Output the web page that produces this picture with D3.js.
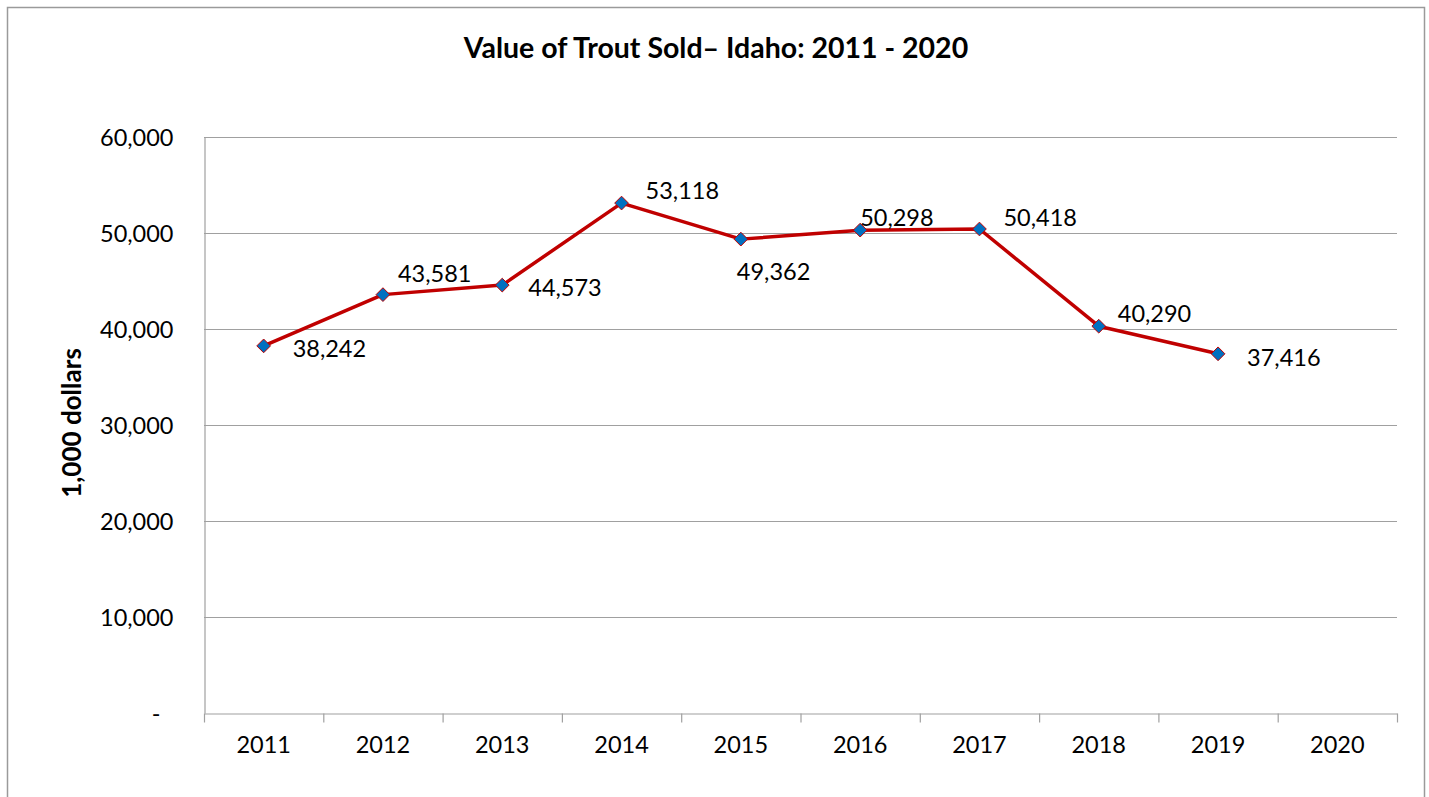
<!DOCTYPE html>
<html>
<head>
<meta charset="utf-8">
<script src="https://cdn.jsdelivr.net/npm/d3@7"></script>
<style>
  html, body { margin: 0; padding: 0; background: #fff; }
  svg { display: block; }
  text { font-family: Lato, "Open Sans", sans-serif; fill: #000; }
</style>
</head>
<body>
<svg id="chart" width="1429" height="797"></svg>
<script>
const years = ["2011","2012","2013","2014","2015","2016","2017","2018","2019","2020"];
const values = [38242, 43581, 44573, 53118, 49362, 50298, 50418, 40290, 37416, null];
const yTicks = [0, 10000, 20000, 30000, 40000, 50000, 60000];
// label offsets (dx from point to label start, dy to label centre) — layout only
const labelDx = [29, 15, 26, 24, -4, 0, 24, 19, 29];
const labelDy = [3, -21, 3, -12, 33, -12, -11, -12, 4];

const svg = d3.select("#chart");
const m = { left: 204, right: 1397, top: 137, bottom: 713 };

// outer frame
svg.append("rect").attr("x", 7.5).attr("y", 7.5).attr("width", 1417).attr("height", 800)
  .attr("fill", "#fff").attr("stroke", "#9a9a9a").attr("stroke-width", 1.5);

const x = d3.scaleBand().domain(years).range([m.left, m.right]).padding(0);
const y = d3.scaleLinear().domain([0, 60000]).range([m.bottom, m.top]);

// gridlines
svg.append("g").selectAll("line").data(yTicks.filter(d => d > 0)).join("line")
  .attr("x1", m.left).attr("x2", m.right)
  .attr("y1", d => y(d) + 0.5).attr("y2", d => y(d) + 0.5)
  .attr("stroke", "#a0a0a0").attr("stroke-width", 1.2);

// y axis
const fmt = d3.format(",");
const yAxis = svg.append("g").attr("transform", `translate(${m.left + 0.5},0)`)
  .call(d3.axisLeft(y).tickValues(yTicks).tickSize(0).tickPadding(31)
    .tickFormat(d => d === 0 ? "-" : fmt(d)));
yAxis.select(".domain").attr("stroke", "#a0a0a0").attr("stroke-width", 1.2);
yAxis.selectAll("text").attr("font-size", 23.5).attr("font-family", "Lato, sans-serif")
  .attr("dy", "0.35em");
yAxis.selectAll(".tick").filter(d => d === 0).select("text").attr("x", -44);

// x axis
const xAxis = svg.append("g").attr("transform", `translate(0,${m.bottom + 0.5})`)
  .call(d3.axisBottom(x).tickSize(0).tickPadding(23));
xAxis.select(".domain").attr("stroke", "#a0a0a0").attr("stroke-width", 1.2);
xAxis.selectAll("text").attr("font-size", 23.5).attr("font-family", "Lato, sans-serif");
// category boundary ticks
const bounds = years.map(d => x(d)).concat([m.right]);
xAxis.append("g").selectAll("line").data(bounds).join("line")
  .attr("x1", d => d + 0.5).attr("x2", d => d + 0.5).attr("y1", 0).attr("y2", 9)
  .attr("stroke", "#a0a0a0").attr("stroke-width", 1.2);

// series
const pts = years.map((yr, i) => ({ yr, v: values[i], i })).filter(d => d.v != null);
const cx = d => x(d.yr) + x.bandwidth() / 2;
svg.append("path").datum(pts)
  .attr("d", d3.line().x(cx).y(d => y(d.v)))
  .attr("fill", "none").attr("stroke", "#C00000").attr("stroke-width", 3.5)
  .attr("stroke-linejoin", "round");

svg.append("g").selectAll("path").data(pts).join("path")
  .attr("transform", d => `translate(${cx(d)},${y(d.v)})`)
  .attr("d", d3.symbol(d3.symbolDiamond2 || d3.symbolDiamond, 120)())
  .attr("fill", "#0070C0").attr("stroke", "#C00000").attr("stroke-width", 1);

// data labels
svg.append("g").selectAll("text").data(pts).join("text")
  .attr("x", d => cx(d) + labelDx[d.i])
  .attr("y", d => y(d.v) + labelDy[d.i])
  .attr("dy", "0.35em")
  .attr("font-size", 23.5)
  .text(d => fmt(d.v));

// title
svg.append("text").attr("x", 716).attr("y", 48).attr("dy", "0.35em")
  .attr("text-anchor", "middle").attr("font-size", 28.5).attr("font-weight", "bold")
  .text("Value of Trout Sold\u2013 Idaho: 2011 - 2020");

// y axis title
svg.append("text").attr("transform", "translate(72,423) rotate(-90)")
  .attr("text-anchor", "middle").attr("dy", "0.35em")
  .attr("font-size", 26).attr("font-weight", "bold")
  .text("1,000 dollars");
</script>
</body>
</html>
